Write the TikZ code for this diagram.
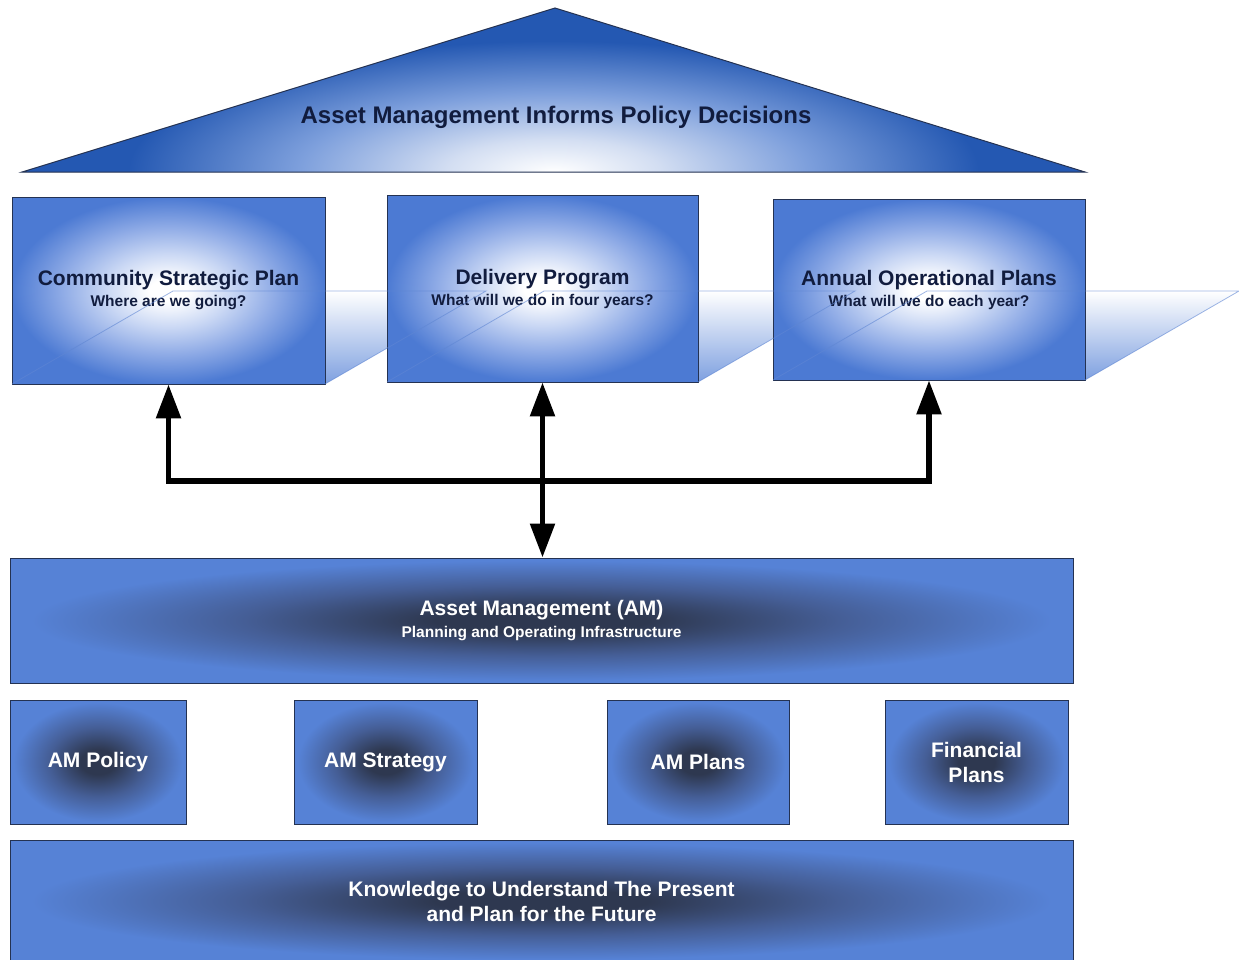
\documentclass[tikz,border=0pt]{standalone}
\usepackage{fontspec}
\setmainfont{Liberation Sans}
\usetikzlibrary{arrows.meta}

\definecolor{roofblue}{HTML}{2458B2}
\definecolor{roofmid}{HTML}{7D9FDC}
\definecolor{rooflight}{HTML}{D3DEF2}
\definecolor{topblue}{HTML}{4C7AD3}
\definecolor{topmid}{HTML}{8FABE6}
\definecolor{toplight}{HTML}{C9D7F4}
\definecolor{amblue}{HTML}{5682D6}
\definecolor{ammid}{HTML}{455E96}
\definecolor{amcore}{HTML}{2E3850}
\definecolor{shelfblue}{HTML}{7EA0E0}
\definecolor{shelfedge}{HTML}{5F86D3}
\definecolor{boxline}{HTML}{243252}
\definecolor{titleink}{HTML}{111C3E}

\pgfdeclareradialshading{roofglow}{\pgfpoint{0bp}{0bp}}{color(0bp)=(white); color(5bp)=(rooflight); color(12bp)=(roofmid); color(20bp)=(roofblue); color(50bp)=(roofblue)}
\pgfdeclareradialshading{topglow}{\pgfpoint{0bp}{0bp}}{color(0bp)=(white); color(3bp)=(white); color(10bp)=(toplight); color(17bp)=(topmid); color(25bp)=(topblue); color(50bp)=(topblue)}
\pgfdeclareradialshading{darkglow}{\pgfpoint{0bp}{0bp}}{color(0bp)=(amcore); color(5bp)=(amcore); color(14bp)=(ammid); color(24bp)=(amblue); color(50bp)=(amblue)}

\newcommand{\boxsubfont}{\fontsize{15.5}{18}\selectfont}

\tikzset{
  planbox/.style={shade, shading=topglow, draw=boxline, line width=0.8pt, inner sep=0pt,
    align=center, text=titleink, font=\fontsize{21}{21}\selectfont\bfseries},
  amslab/.style={shade, shading=darkglow, draw=boxline, line width=1pt, inner sep=0pt,
    align=center, text=white, font=\fontsize{21}{22}\selectfont\bfseries},
  amtile/.style={amslab, minimum width=182pt, minimum height=124pt, font=\fontsize{21}{25}\selectfont\bfseries},
  shelfline/.style={draw=shelfedge, line width=0.8pt, draw opacity=0.6},
  bigarrow/.style={line width=5.5pt, line join=miter, -{Triangle[width=24pt,length=34pt]}},
  twoway/.style={line width=5.5pt, {Triangle[width=24pt,length=34pt]}-{Triangle[width=24pt,length=34pt]}}
}

\begin{document}
\begin{tikzpicture}[x=1pt, y=-1pt]
    \useasboundingbox (0,0) rectangle (1239,959);

    % roof
    \begin{scope}
        \clip (22,172) -- (555,8) -- (1085,172) -- cycle;
        \shade[shading=roofglow] (22,8) rectangle (1085,336);
    \end{scope}
    \draw[boxline, line width=1pt] (22,172) -- (555,8) -- (1085,172) -- cycle;
    \node[text=titleink, font=\fontsize{24}{24}\selectfont\bfseries] (roof) at (556,117) {Asset Management Informs Policy Decisions};

    % shelves behind the plans
    \foreach \xa/\xb/\yb/\dx in {12/325/384/161, 387/698/382/157, 773/1085/380/154} {
        \shade[top color=white, bottom color=shelfblue] (\xa,\yb) -- (\xa+\dx,291) -- (\xb+\dx,291) -- (\xb,\yb) -- cycle;
    }

    % plans
    \node[planbox, minimum width=313pt, minimum height=187pt] (csp) at (168.5,290.5) {Community Strategic Plan\\{\boxsubfont Where are we going?}};
    \node[planbox, minimum width=311pt, minimum height=187pt] (dp) at (542.5,288.5) {Delivery Program\\{\boxsubfont What will we do in four years?}};
    \node[planbox, minimum width=312pt, minimum height=181pt] (aop) at (929,289.5) {Annual Operational Plans\\{\boxsubfont What will we do each year?}};

    % shelf edges
    \foreach \xa/\xb/\yb/\dx in {12/325/384/161, 387/698/382/157, 773/1085/380/154} {
        \draw[shelfline] (\xa,\yb) -- (\xa+\dx,291) -- (\xb+\dx,291) -- (\xb,\yb);
    }

    % asset management
    \node[amslab, minimum width=1063pt, minimum height=125pt] (am) at (541.5,620.5) {Asset Management (AM)\\{\boxsubfont Planning and Operating Infrastructure}};

    \node[amtile, minimum width=176pt] (policy) at (98,762) {AM Policy};
    \node[amtile, minimum width=183pt] (strategy) at (385.5,762) {AM Strategy};
    \node[amtile] (amplans) at (698,762) {AM Plans};
    \node[amtile, minimum width=183pt] (finance) at (976.5,762) {Financial\\Plans};

    % knowledge
    \node[amslab, minimum width=1063pt, minimum height=122pt, font=\fontsize{21}{25}\selectfont\bfseries] (know) at (541.5,901) {Knowledge to Understand The Present\\and Plan for the Future};

    % links
    \coordinate (bus) at (542.5,481);
    \draw[bigarrow] (bus) -| (csp.south);
    \draw[bigarrow] (bus) -| (aop.south);
    \draw[twoway] (dp.south) -- (dp.south |- am.north);
\end{tikzpicture}
\end{document}
